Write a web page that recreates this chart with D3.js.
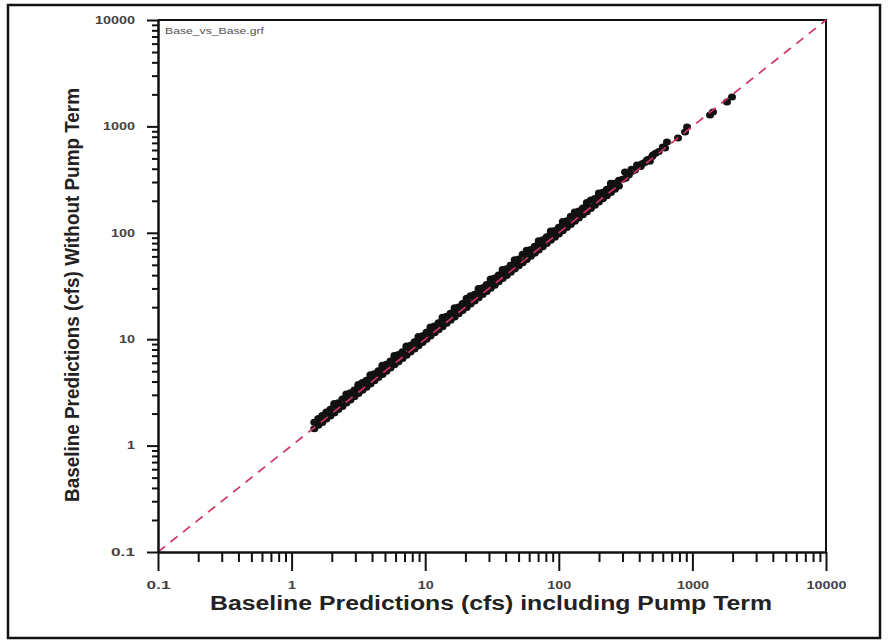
<!DOCTYPE html>
<html>
<head>
<meta charset="utf-8">
<script src="https://cdn.jsdelivr.net/npm/d3@7"></script>
<style>
  html, body { margin: 0; padding: 0; background: #fff; }
  svg { display: block; font-family: "Liberation Sans", Arial, sans-serif; }
</style>
</head>
<body>
<svg id="chart"></svg>
<script>
const WIDTH = 888;
const HEIGHT = 641;

// decade ticks on both axes
const TICKS = [0.1, 1, 10, 100, 1000, 10000];
const TICK_LABELS = ["0.1", "1", "10", "100", "1000", "10000"];

const X_TITLE = "Baseline Predictions (cfs) including Pump Term";
const Y_TITLE = "Baseline Predictions (cfs) Without Pump Term";
const FILE_NAME = "Base_vs_Base.grf";

// main band (x with pump term, y without)
const bandX = [1.479, 1.585, 1.698, 1.820, 1.950, 2.089, 2.239, 2.399, 2.570, 2.754,
  2.951, 3.162, 3.388, 3.631, 3.890, 4.169, 4.467, 4.786, 5.129, 5.495,
  5.888, 6.310, 6.761, 7.244, 7.762, 8.318, 8.913, 9.550, 10.23, 10.96,
  11.75, 12.59, 13.49, 14.45, 15.49, 16.60, 17.78, 19.05, 20.42, 21.88,
  23.44, 25.12, 26.92, 28.84, 30.90, 33.11, 35.48, 38.02, 40.74, 43.65,
  46.77, 50.12, 53.70, 57.54, 61.66, 66.07, 70.79, 75.86, 81.28, 87.10,
  93.33, 100, 107.2, 114.8, 123.0, 131.8, 141.3, 151.4, 162.2, 173.8,
  186.2, 199.5, 213.8, 229.1, 245.5, 263.0, 281.8];
// lower edge of the band, just under the 1:1 line
const bandYLow = [1.44, 1.55, 1.65, 1.78, 1.90, 2.03, 2.19, 2.33, 2.51, 2.68,
  2.88, 3.08, 3.31, 3.53, 3.80, 4.06, 4.36, 4.66, 5.01, 5.35,
  5.75, 6.14, 6.60, 7.05, 7.58, 8.10, 8.70, 9.30, 9.98, 10.7,
  11.5, 12.3, 13.1, 14.1, 15.1, 16.2, 17.3, 18.6, 19.9, 21.4,
  22.8, 24.5, 26.3, 28.1, 30.2, 32.2, 34.6, 37.1, 39.7, 42.6,
  45.6, 48.9, 52.3, 56.1, 60.1, 64.4, 69.0, 74.0, 79.2, 84.9,
  91.0, 97.5, 104.5, 112, 120, 128.5, 138, 148, 158, 169.5,
  181.5, 194.5, 208.5, 223.5, 239.5, 256.5, 275];
// upper row of the band
const bandYHigh = [1.66, 1.80, 1.92, 2.07, 2.20, 2.39, 2.53, 2.74, 2.90, 3.14,
  3.33, 3.60, 3.92, 4.12, 4.40, 4.74, 5.05, 5.45, 5.80, 6.24,
  6.65, 7.17, 7.64, 8.45, 8.77, 9.44, 10.1, 10.8, 11.6, 12.4,
  13.3, 14.3, 15.2, 16.4, 17.5, 18.8, 20.1, 21.6, 23.1, 25.6,
  26.5, 28.5, 30.4, 32.7, 34.9, 37.5, 40.1, 43.1, 46.0, 49.5,
  52.9, 56.8, 62.8, 65.2, 69.7, 74.9, 80.0, 86.0, 91.8, 98.7,
  105, 113, 121, 130, 143, 149, 160, 171, 184, 203,
  210, 225, 240, 256, 274, 293, 312];

// points sticking out above the band
const edgeX = [2.089, 2.570, 3.162, 3.890, 4.786, 5.888, 7.244, 8.913, 10.96, 13.49,
  16.60, 20.42, 25.12, 30.90, 38.02, 46.77, 57.54, 70.79, 87.10, 107.2,
  131.8, 162.2, 199.5, 245.5];
const edgeY = [2.49, 3.06, 3.76, 4.63, 5.70, 7.01, 8.62, 10.6, 13.0, 16.1,
  19.8, 24.3, 29.9, 36.8, 45.2, 55.7, 68.5, 84.2, 104, 128,
  157, 193, 237, 292];

// sparse points at the upper end
const topX = [300, 313, 316, 330, 335, 350, 355, 372, 385, 395, 410, 420, 440, 457,
  470, 480, 500, 507, 530, 560, 600, 624, 645, 780, 881, 912, 1355, 1427, 1815, 1978];
const topY = [318, 373, 325, 350, 352, 395, 378, 390, 434, 420, 420, 445, 458, 483,
  490, 470, 520, 538, 560, 580, 640, 627, 714, 778, 886, 987, 1280, 1366, 1695, 1890];

function main(){
    var svg = d3.select("#chart")
        .attr("width", WIDTH)
        .attr("height", HEIGHT);

    var x = d3.scaleLog().domain([0.1, 10000]).range([158, 826]);
    var y = d3.scaleLog().domain([0.1, 10000]).range([552, 20]);

    // minor ticks 2..9 in every decade
    var minor = [];
    TICKS.slice(0, -1).forEach(d => {
        for (var k = 2; k <= 9; k++) minor.push(d * k);
    });

    // outer frame
    svg.append("rect")
        .attr("x", 8).attr("y", 5)
        .attr("width", 872).attr("height", 633)
        .attr("fill", "none")
        .attr("stroke", "#111")
        .attr("stroke-width", 2.5);

    // plot box (top and right edges)
    svg.append("path")
        .attr("d", "M" + x(0.1) + "," + y(10000) + "H" + x(10000) + "V" + y(0.1))
        .attr("fill", "none")
        .attr("stroke", "#111")
        .attr("stroke-width", 2);

    var points = [];
    bandX.forEach((d, i) => points.push([d, bandYLow[i]]));
    bandX.forEach((d, i) => points.push([d, bandYHigh[i]]));
    edgeX.forEach((d, i) => points.push([d, edgeY[i]]));
    topX.forEach((d, i) => points.push([d, topY[i]]));

    svg.append("g")
        .selectAll("ellipse")
        .data(points)
        .enter()
        .append("ellipse")
        .attr("cx", d => x(d[0]))
        .attr("cy", d => y(d[1]))
        .attr("rx", 4)
        .attr("ry", 3.5)
        .attr("fill", "#111");

    // 1:1 line
    svg.append("line")
        .attr("x1", x(0.1)).attr("y1", y(0.1))
        .attr("x2", x(10000)).attr("y2", y(10000))
        .attr("stroke", "#d03560")
        .attr("stroke-width", 1.7)
        .attr("stroke-dasharray", "9,7");

    // x axis
    svg.append("g")
        .attr("transform", "translate(0," + y(0.1) + ")")
        .call(d3.axisBottom(x).tickValues(minor).tickSize(10).tickFormat("").tickSizeOuter(0));
    var xMajor = svg.append("g")
        .attr("transform", "translate(0," + y(0.1) + ")")
        .call(d3.axisBottom(x).tickValues(TICKS).tickSize(19).tickSizeOuter(0)
            .tickFormat((d, i) => TICK_LABELS[i]));

    // y axis
    svg.append("g")
        .attr("transform", "translate(" + x(0.1) + ",0)")
        .call(d3.axisLeft(y).tickValues(minor).tickSize(6).tickFormat("").tickSizeOuter(0));
    var yMajor = svg.append("g")
        .attr("transform", "translate(" + x(0.1) + ",0)")
        .call(d3.axisLeft(y).tickValues(TICKS).tickSize(11).tickSizeOuter(0)
            .tickFormat((d, i) => TICK_LABELS[i]));

    svg.selectAll(".domain, .tick line")
        .attr("stroke", "#111")
        .attr("stroke-width", 2);

    xMajor.selectAll("text")
        .attr("y", 0).attr("dy", 0)
        .attr("transform", "translate(0,37)");
    yMajor.selectAll("text")
        .attr("x", -23);
    // labels are drawn wide: about 8 px per character
    svg.selectAll(".tick text")
        .attr("font-family", "'Liberation Sans', Arial, sans-serif")
        .attr("font-size", 10.5)
        .attr("font-weight", "bold")
        .attr("fill", "#444")
        .attr("textLength", function(){ return this.textContent.length * 8; })
        .attr("lengthAdjust", "spacingAndGlyphs");

    // axis titles
    svg.append("text")
        .attr("x", 491).attr("y", 610)
        .attr("text-anchor", "middle")
        .attr("font-size", 19.5)
        .attr("font-weight", "bold")
        .attr("fill", "#222")
        .attr("textLength", 562)
        .attr("lengthAdjust", "spacingAndGlyphs")
        .text(X_TITLE);

    svg.append("text")
        .attr("transform", "translate(79,295) rotate(-90)")
        .attr("text-anchor", "middle")
        .attr("font-size", 21)
        .attr("font-weight", "bold")
        .attr("fill", "#222")
        .attr("textLength", 414)
        .attr("lengthAdjust", "spacingAndGlyphs")
        .text(Y_TITLE);

    svg.append("text")
        .attr("x", 165).attr("y", 34)
        .attr("font-size", 9)
        .attr("fill", "#555")
        .attr("textLength", 99)
        .attr("lengthAdjust", "spacingAndGlyphs")
        .text(FILE_NAME);
}

main();
</script>
</body>
</html>
